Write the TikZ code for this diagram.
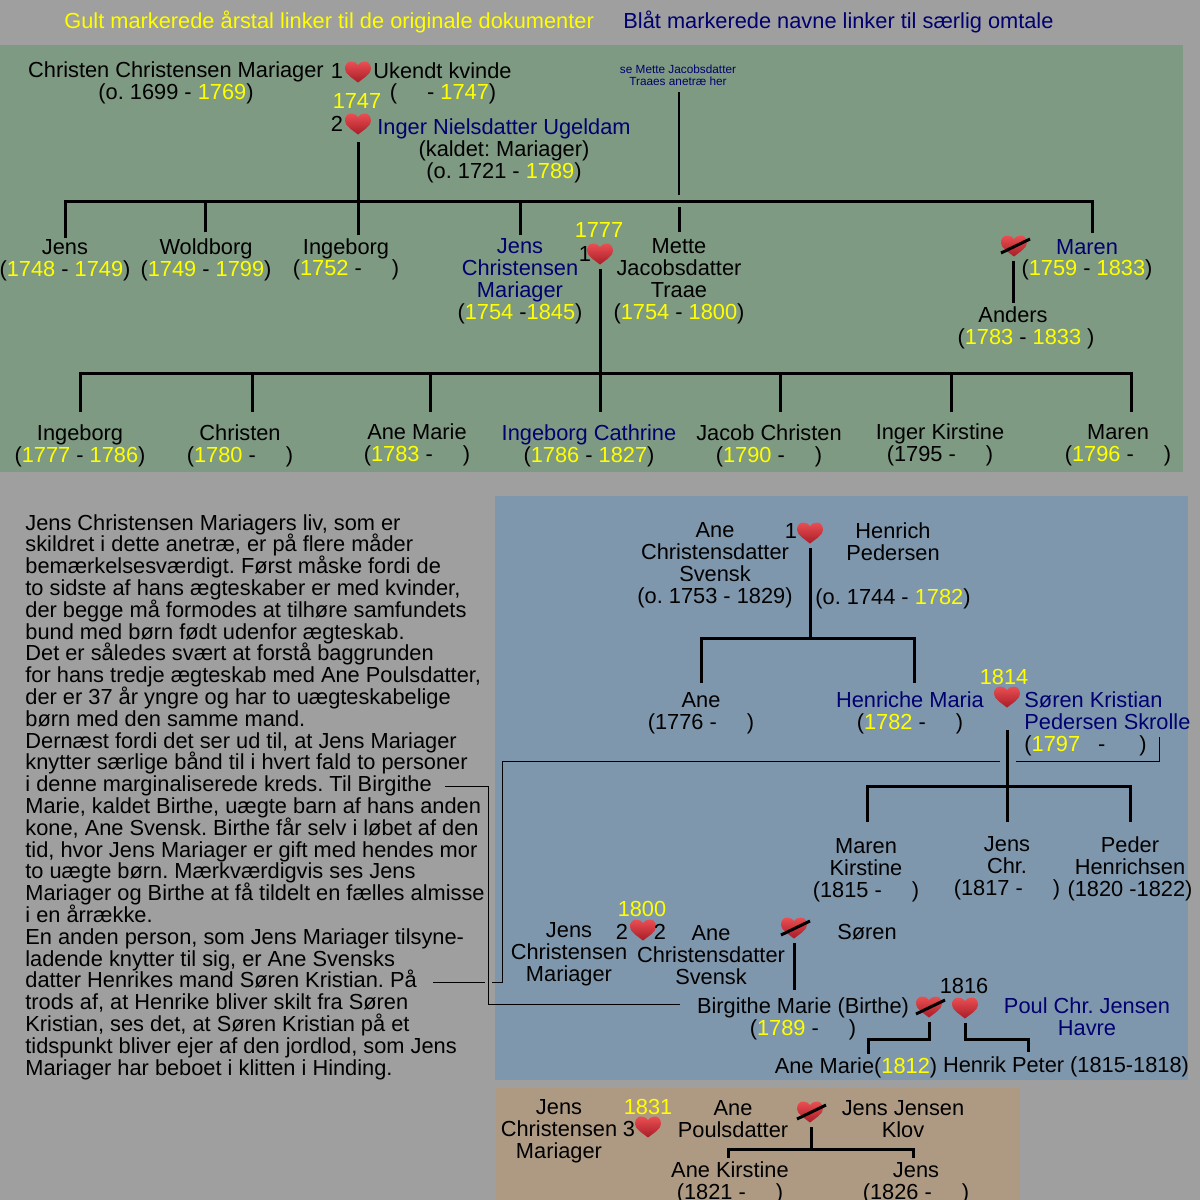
\documentclass[tikz,border=0pt]{standalone}
\usepackage{fontspec}
\setmainfont{Liberation Sans}
\usetikzlibrary{calc}
\AtBeginDocument{\frenchspacing\lineskiplimit=-8pt\relax}
\definecolor{pagegrey}{HTML}{9F9F9F}
\definecolor{panelgreen}{HTML}{7F9A82}
\definecolor{panelblue}{HTML}{7F97AD}
\definecolor{paneltan}{HTML}{AE9A82}
\definecolor{linkblue}{HTML}{000070}
\definecolor{linkyellow}{HTML}{FFFF00}
\definecolor{heartlight}{HTML}{EA4F52}
\definecolor{heartmid}{HTML}{DD2B33}
\definecolor{heartdark}{HTML}{A81C28}
\newcommand{\yr}[1]{\textcolor{linkyellow}{#1}}
\newcommand{\bl}{\hspace{15pt}}
\newcommand{\heartshade}{%
  \begin{scope}[shift={(path picture bounding box.center)}]
    \shade[top color=heartlight, middle color=heartmid, bottom color=heartdark]
      (0,10.5) .. controls (-5,6.5) and (-13,2) .. (-13,-3)
      .. controls (-13,-8) and (-10,-10.5) .. (-7,-10.5)
      .. controls (-4,-10.5) and (-1,-9) .. (0,-7)
      .. controls (1,-9) and (4,-10.5) .. (7,-10.5)
      .. controls (10,-10.5) and (13,-8) .. (13,-3)
      .. controls (13,2) and (5,6.5) .. (0,10.5) -- cycle;
  \end{scope}}
\newcommand{\heartslash}{%
  \begin{scope}[shift={(path picture bounding box.center)}]
    \draw[line width=1.5pt] (-13,7) -- (16,-7);
  \end{scope}}

\begin{document}
\begin{tikzpicture}[
    x=0.5pt, y=-0.5pt,
    every node/.style={font=\fontsize{10.9}{10.9}\selectfont},
    lab/.style={anchor=base, align=center, inner sep=0pt},
    leftlab/.style={anchor=base west, align=left, inner sep=0pt},
    link/.style={lab, text=linkblue},
    year/.style={lab, text=linkyellow},
    heart/.style={minimum width=17pt, minimum height=15pt, inner sep=0pt,
                  path picture={\heartshade}},
    brokenheart/.style={heart, path picture={\heartshade\heartslash}},
    fam/.style={line width=1.5pt},
    hint/.style={line width=0.5pt},
  ]
  \path[use as bounding box, fill=pagegrey] (0,0) rectangle (1200,1200);
  \fill[panelgreen] (0,45) rectangle (1183,472);
  \fill[panelblue] (495,496) rectangle (1188,1080);
  \fill[paneltan] (496,1088) rectangle (1020,1200);

  % legend
  \node[leftlab, text=linkyellow] (legyellow) at (64,28)
    {Gult markerede årstal linker til de originale dokumenter};
  \node[leftlab, text=linkblue] (legblue) at (623,28)
    {Blåt markerede navne linker til særlig omtale};

  % green panel, parents
  \node[lab] (christen) at (176,99) {Christen Christensen Mariager\\(o. 1699 - \yr{1769})};
  \node[lab] (one) at (337,78) {1};
  \node[heart] (hukendt) at (358,72) {};
  \node[leftlab] (ukendt) at (373,78) {Ukendt kvinde};
  \node[lab] (ukendtyr) at (443,99) {(\bl- \yr{1747})};
  \node[year] (y1747) at (357,108) {1747};
  \node[lab] (two) at (337,131) {2};
  \node[heart] (hinger) at (358,124) {};
  \node[link] (inger) at (504,134) {Inger Nielsdatter Ugeldam};
  \node[lab] (ingeryr) at (504,178) {(kaldet: Mariager)\\(o. 1721 - \yr{1789})};
  \node[link, font=\fontsize{5.9}{6}\selectfont] (anetrae) at (678,85) {se Mette Jacobsdatter\\Traaes anetræ her};

  % green panel, first row
  \node[lab] (jens) at (65,276) {Jens\\(\yr{1748} - \yr{1749})};
  \node[lab] (woldborg) at (206,276) {Woldborg\\(\yr{1749} - \yr{1799})};
  \node[lab] (ingeborg) at (346,254) {Ingeborg};
  \node[lab] (ingeborgyr) at (346,275) {(\yr{1752} -\bl)};
  \node[link] (jenschr) at (520,297) {Jens\\Christensen\\Mariager};
  \node[lab] (jenschryr) at (520,319) {(\yr{1754} -\yr{1845})};
  \node[year] (y1777) at (599,237) {1777};
  \node[lab] (oneb) at (585,261) {1};
  \node[heart] (hmette) at (600,254) {};
  \node[lab] (mette) at (679,319) {Mette\\Jacobsdatter\\Traae\\(\yr{1754} - \yr{1800})};
  \node[brokenheart] (hmaren) at (1014,246) {};
  \node[link] (maren) at (1087,254) {Maren};
  \node[lab] (marenyr) at (1087,275) {(\yr{1759} - \yr{1833})};
  \node[lab] (anders) at (1013,322) {Anders};
  \node[lab] (andersyr) at (1026,344) {(\yr{1783} - \yr{1833} )};

  % green panel, second row
  \node[lab] (ingeborgb) at (80,462) {Ingeborg\\(\yr{1777} - \yr{1786})};
  \node[lab] (christenb) at (240,462) {Christen\\(\yr{1780} -\bl)};
  \node[lab] (anemarie) at (417,461) {Ane Marie\\(\yr{1783} -\bl)};
  \node[link] (ingcath) at (589,440) {Ingeborg Cathrine};
  \node[lab] (ingcathyr) at (589,462) {(\yr{1786} - \yr{1827})};
  \node[lab] (jacob) at (769,462) {Jacob Christen\\(\yr{1790} -\bl)};
  \node[lab] (kirstine) at (940,461) {Inger Kirstine\\(1795 -\bl)};
  \node[lab] (marenb) at (1118,461) {Maren\\(\yr{1796} -\bl)};

  \coordinate (cjens) at (65,238);
  \coordinate (cbar) at (358,201);
  \coordinate (cmaren) at (1092,233);
  \coordinate (cwold) at (205,232);
  \coordinate (cing) at (358,235);
  \coordinate (cjchr) at (520,235);
  \coordinate (cmettetop) at (679,207);
  \coordinate (cmettelow) at (679,232);
  \coordinate (cmetteup) at (679,92);
  \coordinate (cmettedn) at (679,195);
  \draw[fam] (cjens) |- (cbar) -| (cmaren);
  \draw[fam, shorten <=1.5pt] (hinger.south) -- (cing);
  \draw[fam] (cwold) -- (cwold |- cbar);
  \draw[fam] (cjchr) -- (cjchr |- cbar);
  \draw[fam] (cmettetop) -- (cmettelow);
  \draw[line width=1pt] (cmetteup) -- (cmettedn);
  \coordinate (canders) at (1013,303);
  \draw[fam] (hmaren.south -| canders) -- (canders);

  \coordinate (krow) at (600,373);
  \coordinate (k1) at (80,412);
  \coordinate (k2) at (252,412);
  \coordinate (k3) at (430,412);
  \coordinate (k4) at (600,412);
  \coordinate (k5) at (780,412);
  \coordinate (k6) at (951,412);
  \coordinate (k7) at (1131,412);
  \draw[fam] (hmette.south) -- (k4);
  \draw[fam] (k1) |- (krow) -| (k7);
  \draw[fam] (k2) -- (k2 |- krow);
  \draw[fam] (k3) -- (k3 |- krow);
  \draw[fam] (k5) -- (k5 |- krow);
  \draw[fam] (k6) -- (k6 |- krow);

  % story
  \node[leftlab] (story) at (25,1075) {Jens Christensen Mariagers liv, som er\\
    skildret i dette anetræ, er på flere måder\\
    bemærkelsesværdigt. Først måske fordi de\\
    to sidste af hans ægteskaber er med kvinder,\\
    der begge må formodes at tilhøre samfundets\\
    bund med børn født udenfor ægteskab.\\
    Det er således svært at forstå baggrunden\\
    for hans tredje ægteskab med Ane Poulsdatter,\\
    der er 37 år yngre og har to uægteskabelige\\
    børn med den samme mand.\\
    Dernæst fordi det ser ud til, at Jens Mariager\\
    knytter særlige bånd til i hvert fald to personer\\
    i denne marginaliserede kreds. Til Birgithe\\
    Marie, kaldet Birthe, uægte barn af hans anden\\
    kone, Ane Svensk. Birthe får selv i løbet af den\\
    tid, hvor Jens Mariager er gift med hendes mor\\
    to uægte børn. Mærkværdigvis ses Jens\\
    Mariager og Birthe at få tildelt en fælles almisse\\
    i en årrække.\\
    En anden person, som Jens Mariager tilsyne-\\
    ladende knytter til sig, er Ane Svensks\\
    datter Henrikes mand Søren Kristian. På\\
    trods af, at Henrike bliver skilt fra Søren\\
    Kristian, ses det, at Søren Kristian på et\\
    tidspunkt bliver ejer af den jordlod, som Jens\\
    Mariager har beboet i klitten i Hinding.};

  % blue panel
  \node[lab] (anesv) at (715,603) {Ane\\Christensdatter\\Svensk\\(o. 1753 - 1829)};
  \node[lab] (oned) at (791,538) {1};
  \node[heart] (hhenrich) at (810,533) {};
  \node[lab] (henrich) at (893,560) {Henrich\\Pedersen};
  \node[lab] (henrichyr) at (893,604) {(o. 1744 - \yr{1782})};
  \node[lab] (ane) at (701,729) {Ane\\(1776 -\bl)};
  \node[link] (henriche) at (910,707) {Henriche Maria};
  \node[lab] (henricheyr) at (910,729) {(\yr{1782} -\bl)};
  \node[year] (y1814) at (1004,684) {1814};
  \node[heart] (hsoren) at (1007,697) {};
  \node[leftlab, text=linkblue] (soren) at (1024,729) {Søren Kristian\\Pedersen Skrolle};
  \node[leftlab] (sorenyr) at (1024,751) {(\yr{1797}\hspace{9pt}-\hspace{17pt})};
  \node[lab] (marenk) at (866,897) {Maren\\Kirstine\\(1815 -\bl)};
  \node[lab] (jensc) at (1007,895) {Jens\\Chr.\\(1817 -\bl)};
  \node[lab] (peder) at (1130,896) {Peder\\Henrichsen\\(1820 -1822)};
  \node[lab] (jensb) at (569,981) {Jens\\Christensen\\Mariager};
  \node[year] (y1800) at (642,916) {1800};
  \node[lab] (twoa) at (622,939) {2};
  \node[heart] (hanec) at (643,930) {};
  \node[lab] (twob) at (660,939) {2};
  \node[lab] (anec) at (711,984) {Ane\\Christensdatter\\Svensk};
  \node[brokenheart] (hsorenb) at (794,928) {};
  \node[lab] (sorenb) at (867,939) {Søren};
  \node[lab] (birgithe) at (803,1035) {Birgithe Marie (Birthe)\\(\yr{1789} -\bl)};
  \node[brokenheart] (hbirthea) at (929,1007) {};
  \node[heart] (hbirtheb) at (965,1008) {};
  \node[lab] (y1816) at (964,993) {1816};
  \node[link] (poul) at (1087,1035) {Poul Chr. Jensen\\Havre};
  \node[lab] (anemb) at (856,1073) {Ane Marie(\yr{1812})};
  \node[lab] (henrik) at (1066,1072) {Henrik Peter (1815-1818)};

  \coordinate (dbar) at (810,638);
  \coordinate (dane) at (701,683);
  \coordinate (dhenr) at (914,683);
  \draw[fam] (hhenrich.south) -- (dbar);
  \draw[fam] (dane) |- (dbar) -| (dhenr);
  \coordinate (ebar) at (1007,786);
  \coordinate (emar) at (867,822);
  \coordinate (ejen) at (1007,822);
  \coordinate (eped) at (1130,822);
  \draw[fam, shorten <=9pt] (hsoren.south) -- (ejen);
  \draw[fam] (emar) |- (ebar) -| (eped);
  \coordinate (fbir) at (794,990);
  \draw[fam] (hsorenb.south) -- (fbir);
  \coordinate (gbara) at (929,1039);
  \coordinate (gane) at (868,1054);
  \coordinate (gbarb) at (965,1039);
  \coordinate (ghen) at (1028,1052);
  \draw[fam] (hbirthea.south) -- (gbara) -| (gane);
  \draw[fam] (hbirtheb.south) -- (gbarb) -| (ghen);

  % pointers from the story
  \coordinate (pa) at (433,982);
  \coordinate (pb) at (485,982);
  \coordinate (pc) at (492,982);
  \coordinate (pd) at (502,761);
  \coordinate (pe) at (1000,761);
  \coordinate (pf) at (1016,761);
  \coordinate (pg) at (1159,737);
  \coordinate (ph) at (445,786);
  \coordinate (pi) at (488,1004);
  \coordinate (pj) at (680,1004);
  \draw[hint] (pa) -- (pb);
  \draw[hint] (pc) -| (pd) -- (pe);
  \draw[hint] (pf) -| (pg);
  \draw[hint] (ph) -| (pi) -- (pj);

  % tan panel
  \node[lab] (jensd) at (559,1158) {Jens\\Christensen\\Mariager};
  \node[year] (y1831) at (648,1114) {1831};
  \node[lab] (three) at (629,1136) {3};
  \node[heart] (hpoul) at (648,1127) {};
  \node[lab] (anep) at (733,1137) {Ane\\Poulsdatter};
  \node[brokenheart] (hklov) at (810,1112) {};
  \node[lab] (klov) at (903,1137) {Jens Jensen\\Klov};
  \node[lab] (anek) at (730,1199) {Ane Kirstine\\(1821 -\bl)};
  \node[lab] (jense) at (916,1199) {Jens\\(1826 -\bl)};
  \coordinate (hbar) at (811,1149);
  \coordinate (hanek) at (728,1158);
  \coordinate (hjen) at (913,1158);
  \draw[fam] (hklov.south -| hbar) -- (hbar);
  \draw[fam] (hanek) |- (hbar) -| (hjen);
\end{tikzpicture}
\end{document}
